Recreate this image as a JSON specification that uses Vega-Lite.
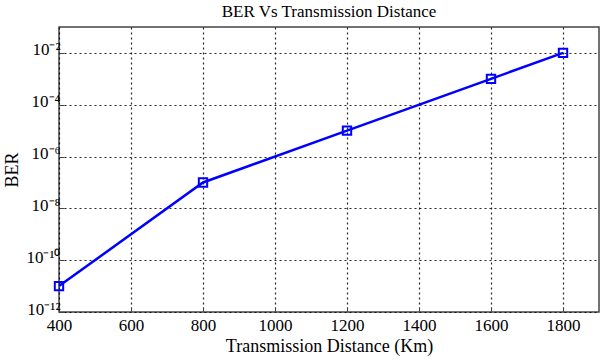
{
  "$schema": "https://vega.github.io/schema/vega-lite/v6.json",
  "width": 540,
  "height": 285,
  "autosize": {"type": "none"},
  "padding": {"left": 59, "top": 27, "right": 5, "bottom": 49},
  "background": "white",
  "title": {"text": "BER Vs Transmission Distance", "font": "Liberation Serif", "fontSize": 17, "fontWeight": "normal", "color": "black", "offset": 6},
  "config": {
    "view": {"stroke": "#444444", "strokeWidth": 1.5},
    "axis": {
      "labelFont": "Liberation Serif", "titleFont": "Liberation Serif",
      "labelFontSize": 17, "titleFontSize": 18, "titleFontWeight": "normal",
      "labelColor": "black", "titleColor": "black",
      "domain": false, "tickColor": "#444444", "tickSize": -5,
      "grid": true, "gridColor": "black", "gridDash": [2, 3], "gridOpacity": 0.85, "gridWidth": 1.2
    }
  },
  "data": {"values": [
    {"distance": 400, "ber": 1e-11},
    {"distance": 800, "ber": 1e-7},
    {"distance": 1200, "ber": 1e-5},
    {"distance": 1600, "ber": 1e-3},
    {"distance": 1800, "ber": 1e-2}
  ]},
  "encoding": {
    "x": {"field": "distance", "type": "quantitative",
      "scale": {"domain": [400, 1900], "nice": false, "zero": false},
      "axis": {"values": [400, 600, 800, 1000, 1200, 1400, 1600, 1800], "format": "d", "title": "Transmission Distance (Km)",
        "labelFont": "Liberation Serif", "labelFontSize": 17, "labelPadding": 10, "titlePadding": 4, "labelFlush": false}},
    "y": {"field": "ber", "type": "quantitative",
      "scale": {"type": "log", "domain": [1e-12, 0.1], "nice": false},
      "axis": {"values": [1e-12, 1e-10, 1e-8, 1e-6, 1e-4, 1e-2], "title": "BER", "titlePadding": 4, "labelPadding": 4, "labelFlush": false, "labelOffset": -3,
        "labelFont": "Liberation Serif", "labelFontSize": 17,
        "labelExpr": "datum.value < 1e-11 ? '10⁻¹²' : datum.value < 1e-9 ? '10⁻¹⁰' : datum.value < 1e-7 ? '10⁻⁸' : datum.value < 1e-5 ? '10⁻⁶' : datum.value < 1e-3 ? '10⁻⁴' : '10⁻²'"}}
  },
  "layer": [
    {"mark": {"type": "line", "color": "#0000ff", "strokeWidth": 2.5}},
    {"mark": {"type": "point", "shape": "square", "filled": false, "color": "#0000ff", "strokeWidth": 2, "size": 70, "opacity": 1}}
  ]
}
